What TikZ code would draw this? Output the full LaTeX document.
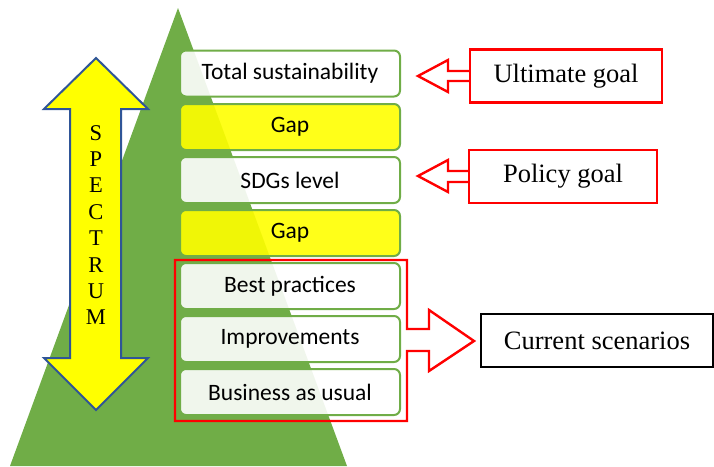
\documentclass[tikz,border=0pt]{standalone}
\usepackage{fontspec}
\setmainfont{Liberation Serif}
\newfontfamily\calib{Carlito}
\usetikzlibrary{calc}
\definecolor{grn}{HTML}{70AD47}
\definecolor{ylw}{HTML}{FFFF00}
\definecolor{bluo}{HTML}{2F5597}
\definecolor{redc}{HTML}{FF0000}
\begin{document}
\begin{tikzpicture}[x=1pt,y=-1pt,
 lvl/.style={draw=grn, line width=2pt, rounded corners=6pt, minimum width=220pt, minimum height=46pt, inner sep=0pt, font=\calib\fontsize{23.5}{28}\selectfont, fill opacity=0.9, text opacity=1},
 wlvl/.style={lvl, fill=white},
 ylvl/.style={lvl, fill=ylw},
 goal/.style={draw=redc, line width=2.4pt, fill=white, minimum height=53pt, inner sep=0pt, font=\fontsize{26.5}{30}\selectfont},
 redarr/.style={draw=redc, line width=2.4pt, line join=miter, fill=white}]
\useasboundingbox (0,0) rectangle (714,466);
% triangle
\fill[grn] (178,8) -- (347,466) -- (10,466) -- cycle;
% spectrum double arrow
\draw[bluo, line width=2pt, fill=ylw, line join=miter]
  (96,58) -- (148,109) -- (121,109) -- (121,358) -- (148,358) -- (96,410)
  -- (44,358) -- (70,358) -- (70,109) -- (44,109) -- cycle;
\node[align=center, inner sep=0pt, font=\fontsize{22.5}{26.4}\selectfont] (spec) at (96,225)
  {S\\P\\E\\C\\T\\R\\U\\M};
% levels
\node[wlvl] (b1) at (290,73.5) {Total sustainability};
\node[ylvl] (b2) at (290,127) {Gap};
\node[wlvl] (b3) at (290,180) {SDGs level};
\node[ylvl] (b4) at (290,233) {Gap};
\node[wlvl] (b5) at (290,286) {Best practices};
\node[wlvl] (b6) at (290,339) {Improvements};
\node[wlvl] (b7) at (290,392) {Business as usual};
% goals
\node[goal, minimum width=192pt] (ug) at (566,76) {Ultimate goal};
\node[goal, minimum width=188pt] (pg) at (563,176.5) {Policy goal};
\node[goal, draw=black, line width=2pt, minimum width=232pt] (cs) at (597,340.5) {Current scenarios};
% goal arrows
\coordinate (ugtip) at (418,76);
\coordinate (pgtip) at (418,176);
\draw[redarr] ($(ug.west)+(0,-5)$) -- (448,71) -- (448,60) -- (ugtip) -- (448,92) -- (448,81) -- ($(ug.west)+(0,5)$);
\draw[redarr] ($(pg.west)+(0,-5.5)$) -- (448,171) -- (448,160) -- (pgtip) -- (448,192) -- (448,182) -- ($(pg.west)+(0,5.5)$);
% current scenarios bracket
\coordinate (cstip) at (474,341);
\draw[redc, line width=2.4pt, line join=miter]
  (175,260) -- (407,260) -- (407,329) -- (429,329) -- (429,310) -- (cstip)
  -- (429,371) -- (429,351) -- (407,351) -- (407,421) -- (175,421) -- cycle;
\end{tikzpicture}
\end{document}
